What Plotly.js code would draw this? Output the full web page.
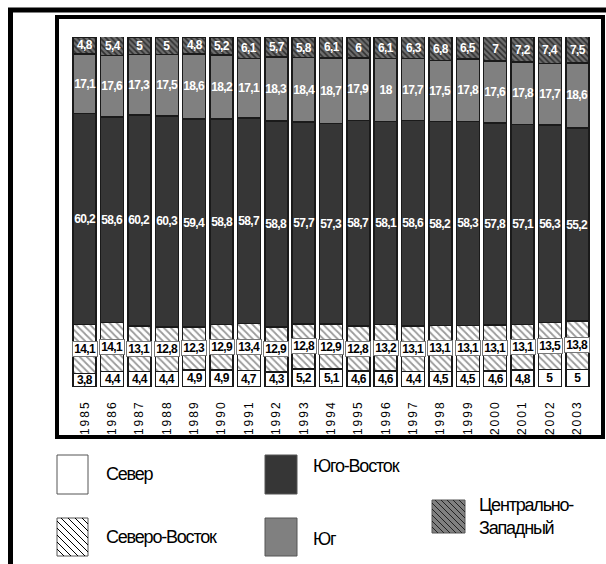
<!DOCTYPE html>
<html><head><meta charset="utf-8">
<script src="https://cdn.plot.ly/plotly-3.0.1.min.js"></script>
<style>html,body{margin:0;padding:0;background:#fff}#c{width:606px;height:564px}
#c .xtick text{letter-spacing:2px}
#c .annotation-text{letter-spacing:-0.6px}
#c .annotation[data-index="95"] .annotation-text,#c .annotation[data-index="96"] .annotation-text,#c .annotation[data-index="97"] .annotation-text,#c .annotation[data-index="98"] .annotation-text,#c .annotation[data-index="99"] .annotation-text{letter-spacing:-1.2px}
</style>
</head><body><div id="c"></div>
<script>
const years = ['1985','1986','1987','1988','1989','1990','1991','1992','1993','1994','1995','1996','1997','1998','1999','2000','2001','2002','2003'];
const sever = [3.8,4.4,4.4,4.4,4.9,4.9,4.7,4.3,5.2,5.1,4.6,4.6,4.4,4.5,4.5,4.6,4.8,5,5];
const severoVostok = [14.1,14.1,13.1,12.8,12.3,12.9,13.4,12.9,12.8,12.9,12.8,13.2,13.1,13.1,13.1,13.1,13.1,13.5,13.8];
const yugoVostok = [60.2,58.6,60.2,60.3,59.4,58.8,58.7,58.8,57.7,57.3,58.7,58.1,58.6,58.2,58.3,57.8,57.1,56.3,55.2];
const yug = [17.1,17.6,17.3,17.5,18.6,18.2,17.1,18.3,18.4,18.7,17.9,18,17.7,17.5,17.8,17.6,17.8,17.7,18.6];
const centrZap = [4.8,5.4,5,5,4.8,5.2,6.1,5.7,5.8,6.1,6,6.1,6.3,6.8,6.5,7,7.2,7.4,7.5];
const seriesNames = ['Север','Северо-Восток','Юго-Восток','Юг','Центрально-Западный'];

const FONT = '"Liberation Sans Narrow", "Liberation Sans", Arial, sans-serif';
const series = [sever, severoVostok, yugoVostok, yug, centrZap];
const lineCol = '#1a1a1a';
const markers = [
  {color:'#ffffff', line:{color:lineCol,width:1.5}},
  {color:'#ffffff', line:{color:lineCol,width:1.5}, pattern:{shape:'\\', bgcolor:'#ffffff', fgcolor:'#9a9a9a', size:5, solidity:0.35}},
  {color:'#363636', line:{color:lineCol,width:1.5}},
  {color:'#808080', line:{color:lineCol,width:1.5}},
  {color:'#606060', line:{color:lineCol,width:1.5}, pattern:{shape:'\\', bgcolor:'#6e6e6e', fgcolor:'#303030', size:4, solidity:0.4}}
];
const traces = series.map((s,i)=>({type:'bar', x:years, y:s, name:seriesNames[i], marker:markers[i], showlegend:false, hoverinfo:'x+y+name'}));

const fmt = v => String(v).replace('.', ',');
const annotations = [];
const base = years.map(()=>0);
series.forEach((s,i)=>{
  s.forEach((v,j)=>{
    const a = {x:j, y:base[j]+v/2, xref:'x', yref:'y', text:fmt(v), showarrow:false,
      font:{family:FONT, size:12, color:(i<2?'#000':'#fff'), weight:'bold'}};
    if(i===1){a.bgcolor='#ffffff'; a.bordercolor='#777'; a.borderwidth=1; a.borderpad=0;}
    annotations.push(a);
    base[j]+=v;
  });
});

const L=71,R=591,T=37,B=387;
const px = x => (x-L)/(R-L);
const py = y => (B-y)/(B-T);
const shapes = [];
shapes.push({type:'line', xref:'paper', yref:'paper', x0:px(10.5), x1:px(10.5), y0:py(8), y1:py(566), line:{color:'#000', width:5}});
shapes.push({type:'line', xref:'paper', yref:'paper', x0:px(8), x1:px(608), y0:py(10), y1:py(10), line:{color:'#000', width:5}});
shapes.push({type:'rect', xref:'paper', yref:'paper', x0:px(57), x1:px(603), y0:py(17), y1:py(437), line:{color:'#000', width:4}});

function hatch(x0,y0,x1,y1,step,col,w){
  let d='';
  const wdt=x1-x0, hgt=y1-y0;
  for(let k=-hgt; k<wdt; k+=step){
    let sx=x0+k, sy=y0, ex=x0+k+hgt, ey=y1;
    if(sx<x0){sy=y0+(x0-sx); sx=x0;}
    if(ex>x1){ey=y1-(ex-x1); ex=x1;}
    if(ey<=sy) continue;
    d+=`M${px(sx)},${py(sy)}L${px(ex)},${py(ey)}`;
  }
  shapes.push({type:'path', xref:'paper', yref:'paper', path:d, line:{color:col,width:w}});
}
function swatch(x0,y0,x1,y1,fill,hatchCol,step){
  shapes.push({type:'rect', xref:'paper', yref:'paper', x0:px(x0), x1:px(x1), y0:py(y0), y1:py(y1), fillcolor:fill, line:{color:'#555',width:1}});
  if(hatchCol) hatch(x0,y0,x1,y1,step,hatchCol,1);
}
swatch(57,455,88,494,'#ffffff');
swatch(57,518,88,556,'#ffffff','#000',7);
swatch(265,455,297,494,'#363636');
swatch(265,518,297,556,'#808080');
swatch(432,500,465,533,'#808080','#222',6);
const legTexts = [
  {t:'Север', x:104, y:474},
  {t:'Северо-Восток', x:104, y:537},
  {t:'Юго-Восток', x:311, y:466},
  {t:'Юг', x:311, y:539},
  {t:'Центрально-<br>Западный', x:477, y:516}
];
legTexts.forEach(o=>annotations.push({xref:'paper', yref:'paper', x:px(o.x), y:py(o.y), xanchor:'left', yanchor:'middle', align:'left', text:o.t, showarrow:false, font:{family:FONT, size:18, color:'#000'}}));

const layout = {
  width:606, height:564,
  margin:{l:L, r:606-R, t:T, b:564-B, pad:0},
  paper_bgcolor:'#fff', plot_bgcolor:'#fff',
  barmode:'stack', bargap:0.16,
  showlegend:false,
  xaxis:{type:'category', range:[-0.5,18.5], tickangle:-90, showgrid:false, zeroline:false, showline:false, ticks:'', ticklabelstandoff:10, tickfont:{family:'"Liberation Sans", Arial, sans-serif', size:12, color:'#000'}},
  yaxis:{range:[0,100], visible:false, fixedrange:true},
  annotations, shapes
};
Plotly.newPlot('c', traces, layout, {displayModeBar:false, staticPlot:true});
</script></body></html>
